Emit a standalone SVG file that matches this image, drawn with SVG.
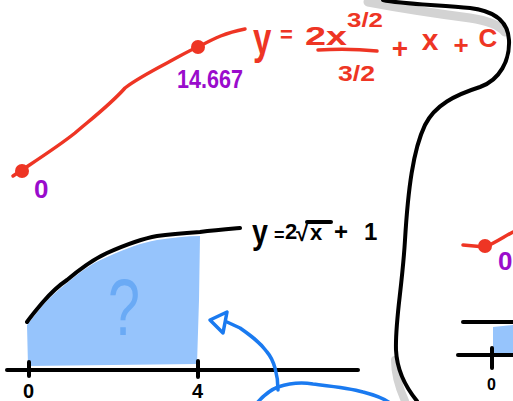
<svg xmlns="http://www.w3.org/2000/svg" width="513" height="401" viewBox="0 0 513 401">
<style>
.red{fill:#ee3524;font-family:"Liberation Sans",Arial,sans-serif;font-weight:bold}
.pur{fill:#9a0ccc;font-family:"Liberation Sans",Arial,sans-serif;font-weight:bold}
.blk{fill:#000;font-family:"Liberation Sans",Arial,sans-serif;font-weight:bold}
.rs{fill:none;stroke:#ee3524;stroke-width:3.5;stroke-linecap:round;stroke-linejoin:round}
.ks{fill:none;stroke:#000;stroke-width:4;stroke-linecap:round;stroke-linejoin:round}
.bs{fill:none;stroke:#1a7af0;stroke-width:3.5;stroke-linecap:round;stroke-linejoin:round}
.gs{fill:none;stroke:#d3d3d3;stroke-linecap:round;stroke-linejoin:round}
</style>
<rect width="513" height="401" fill="#fff"/>
<g id="outline">
<path class="gs" stroke-width="9" d="M368,2 C400,8 440,14 470,18 C490,21 500,26 505,32"/>
<path class="gs" stroke-width="8" d="M395,360 C395,375 400,390 405,401"/>
<path class="ks" d="M383,0 C400,4 440,5 470,8 C495,11 508,22 509,40 C510,60 500,80 480,87 C455,95 435,105 425,125 C413,150 408,190 405,240 C402,290 395,320 396,350 C397,372 408,390 417,401"/>
</g>
<g id="antiderivative">
<path class="rs" d="M13,176 L22,170 C40,158 60,145 75,133 C90,120 110,105 125,88 C135,80 150,72 167,63 C180,56 190,50 200,46 C215,38 225,33 245,29"/>
<circle cx="22" cy="171" r="7" fill="#ee3524"/>
<circle cx="198" cy="47" r="7" fill="#ee3524"/>
<text class="red" transform="translate(253,54) scale(1.1,1.5)" font-size="30" font-weight="normal">y</text>
<text class="red" x="280" y="42" font-size="22">=</text>
<text class="red" x="305" y="45" font-size="26" textLength="42" lengthAdjust="spacingAndGlyphs">2x</text>
<text class="red" x="347" y="27" font-size="20" textLength="36" lengthAdjust="spacingAndGlyphs">3/2</text>
<path class="rs" stroke-width="3" d="M318,50 Q348,48 377,51"/>
<text class="red" x="338" y="81" font-size="22" textLength="37" lengthAdjust="spacingAndGlyphs">3/2</text>
<text class="red" x="400" y="58" font-size="28" text-anchor="middle">+</text>
<text class="red" x="430" y="50" font-size="30" text-anchor="middle">x</text>
<text class="red" x="461" y="54" font-size="26" text-anchor="middle">+</text>
<text class="red" x="488" y="47" font-size="26" text-anchor="middle">C</text>
<text class="pur" x="177" y="88" font-size="26" textLength="66" lengthAdjust="spacingAndGlyphs">14.667</text>
<text class="pur" x="34" y="198" font-size="26">0</text>
</g>
<g id="area">
<path fill="#96c4fc" d="M27,325 L43,305 C50,297 58,290 67,283 C80,272 92,263 107,257 C125,249 140,243 157,240 C172,238 186,236 200,236 L199,300 L197,364 L28,366 Z"/>
<text x="124" y="335" font-size="80" fill="#6aaaf5" font-family="Liberation Sans,Arial,sans-serif" text-anchor="middle" textLength="32" lengthAdjust="spacingAndGlyphs">?</text>
<path class="ks" d="M27,322 C32,315 38,308 43,302 C50,294 58,286 67,280 C80,269 92,260 107,253 C125,245 140,239 157,236 C172,234 186,233 200,232 C215,230 228,229 240,228"/>
<path class="ks" d="M7,370 L358,370"/>
<path class="ks" d="M29,362 L29,376 M198,361 L198,377"/>
<text class="blk" x="23" y="398" font-size="20">0</text>
<text class="blk" x="192" y="398" font-size="20">4</text>
<text class="blk" transform="translate(252,244) scale(1.1,1.35)" font-size="26" font-weight="normal">y</text>
<text class="blk" x="274" y="241" font-size="18">=</text>
<text class="blk" x="285" y="239" font-size="22">2</text>
<text class="blk" x="296" y="241" font-size="22">√</text>
<path class="ks" stroke-width="3" d="M307,222 L331,222"/>
<text class="blk" x="310" y="240" font-size="22">x</text>
<text class="blk" x="334" y="240" font-size="24">+</text>
<text class="blk" x="364" y="240" font-size="24">1</text>
</g>
<g id="right-panel">
<path class="rs" d="M463,245 L485,247 C495,243 505,236 513,232"/>
<circle cx="485" cy="246" r="7" fill="#ee3524"/>
<text class="pur" x="498" y="270" font-size="26">0</text>
<path fill="#96c4fc" d="M493,327 L513,325 L513,353 L493,353 Z"/>
<path class="ks" d="M463,322 L513,322"/>
<path class="ks" d="M458,355 L513,355"/>
<path class="ks" d="M492,348 L492,368"/>
<text class="blk" x="487" y="390" font-size="16">0</text>
</g>
<g id="connectors">
<path class="bs" d="M278,390 C278,375 274,360 267,352 C260,342 250,335 240,328 L227,322"/>
<path class="bs" d="M210,320 L227,312 L223,333 Z"/>
<path class="bs" d="M257,403 C264,395 270,390 278,387 C290,383 300,382 313,384 C330,386 350,388 363,392 C375,395 383,398 390,403"/>
</g>
</svg>
